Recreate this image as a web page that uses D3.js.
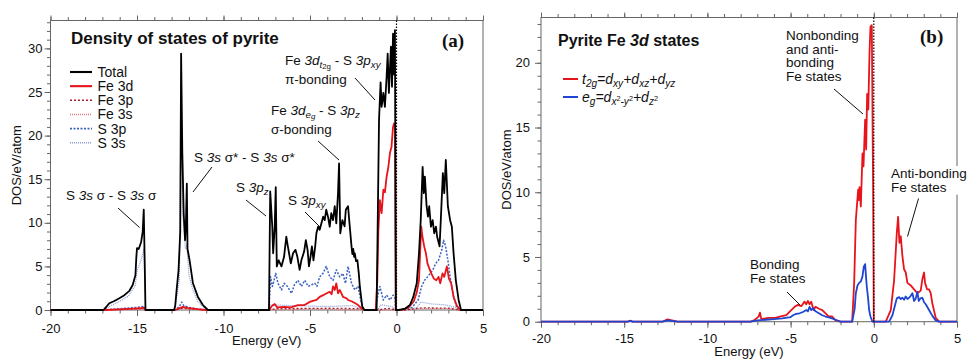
<!DOCTYPE html>
<html>
<head>
<meta charset="utf-8">
<script src="https://cdn.jsdelivr.net/npm/d3@7"></script>
<style>
body { margin: 0; background: #fff; }
text { font-family: "Liberation Sans", Arial, Helvetica, sans-serif; fill: #111; }
.frame { fill: none; stroke: #666; stroke-width: 1; }
.axis path { display: none; }
.axis line { stroke: #666; }
.axis text { font-size: 13px; fill: #111; font-family: "Liberation Sans", Arial, sans-serif; }
</style>
</head>
<body>
<svg width="967" height="362"></svg>
<script>
// ---- data: [energy (eV), DOS] ----
var xTicks = [-20, -15, -10, -5, 0, 5];
var yTicksA = [0, 5, 10, 15, 20, 25, 30];
var yTicksB = [0, 5, 10, 15, 20];

var totalA = [[-20,0],[-16.95,0],[-16.89,0.1],[-16.6,0.77],[-16.31,1.03],[-16.02,1.34],[-15.73,1.7],[-15.44,2.2],[-15.25,2.87],[-15.09,4.0],[-15.04,6.0],[-15.0,7.1],[-14.9,7.0],[-14.76,7.8],[-14.67,9.0],[-14.61,11.5],[-14.55,5],[-14.51,0],
  [-12.85,0],[-12.79,0.5],[-12.7,2.5],[-12.6,4.5],[-12.5,9],[-12.45,29.4],[-12.38,18],[-12.3,11],[-12.22,8],[-12.17,10],[-12.12,14.5],[-12.08,7],[-11.96,5.7],[-11.77,3.1],[-11.48,1.5],[-11.19,0.57],[-10.9,0],
  [-7.37,0],[-7.3,13.6],[-7.18,9.55],[-7.13,6.5],[-7.04,9.55],[-6.98,14.1],[-6.92,5.0],[-6.81,5.7],[-6.65,5.0],[-6.5,6.1],[-6.37,8.4],[-6.28,7.3],[-6.11,5.35],[-5.98,6.5],[-5.84,6.9],[-5.73,6.1],[-5.6,4.6],[-5.5,5.7],[-5.34,6.7],[-5.24,8.0],[-5.14,6.9],[-5.06,5.0],[-4.97,6.1],[-4.89,7.3],[-4.8,5.7],[-4.7,7.3],[-4.63,8.8],[-4.53,9.55],[-4.44,9.2],[-4.34,9.94],[-4.24,10.7],[-4.15,10.3],[-4.06,11.5],[-3.96,10.7],[-3.86,9.55],[-3.77,11.1],[-3.67,10.3],[-3.57,11.9],[-3.48,9.94],[-3.38,13.4],[-3.32,16.8],[-3.25,8.8],[-3.13,10.3],[-3.0,9.6],[-2.93,11.5],[-2.8,11.9],[-2.7,9.55],[-2.6,7.3],[-2.55,6.4],[-2.5,7.0],[-2.45,6.1],[-2.41,6.5],[-2.34,5.6],[-2.26,5.7],[-2.18,4.2],[-2.12,2.7],[-1.98,0.4],[-1.85,0],
  [-1.15,0],[-1.01,21.8],[-0.92,26.1],[-0.86,23.3],[-0.76,24.9],[-0.67,23.3],[-0.57,26.8],[-0.51,29.4],[-0.44,24.9],[-0.32,30.2],[-0.26,25.6],[-0.2,31.7],[-0.14,27],[-0.09,32.1],[-0.04,0],
  [0.15,0],[0.49,0.15],[0.78,0.57],[0.97,1.5],[1.17,3.06],[1.3,6.5],[1.4,10.3],[1.51,16.4],[1.58,13.4],[1.64,15.3],[1.74,11.9],[1.82,10.7],[1.89,11.9],[1.99,9.55],[2.09,10.3],[2.18,8.8],[2.28,9.55],[2.35,8.4],[2.49,7.3],[2.56,10.3],[2.68,15.7],[2.76,13.4],[2.85,17.2],[2.97,11.9],[3.1,10.3],[3.2,9.55],[3.3,6.5],[3.43,3.4],[3.59,1.15],[3.73,0],[5,0]];

var fe3dA = [[-20,0],[-16.9,0],[-16,0.08],[-15.2,0.15],[-14.8,0.2],[-14.6,0.25],[-14.5,0],[-12.8,0],[-12.5,0.25],[-12.35,0.35],[-12.1,0.25],[-11.5,0.1],[-11,0],
  [-7.37,0],[-7.3,0.2],[-7.2,0.46],[-7.04,0.69],[-6.9,0.3],[-6.5,0.35],[-6.1,0.3],[-5.7,0.57],[-5.35,0.55],[-4.98,0.96],[-4.63,1.15],[-4.44,1.5],[-4.24,1.7],[-4.06,1.9],[-3.86,2.1],[-3.75,1.8],[-3.67,2.7],[-3.57,2.3],[-3.48,3.06],[-3.38,1.9],[-3.28,2.3],[-3.09,1.5],[-2.9,1.35],[-2.8,1.15],[-2.6,1.0],[-2.41,0.8],[-2.22,0.57],[-2.03,0.2],[-1.85,0],
  [-1.2,0],[-1.11,3.4],[-1.05,9],[-0.96,12.6],[-0.86,11.1],[-0.76,13.8],[-0.67,13.5],[-0.57,15.3],[-0.47,16.4],[-0.38,18],[-0.29,18.7],[-0.2,21],[-0.14,21.4],[-0.08,21.2],[-0.04,0],
  [0.3,0],[0.7,0.3],[1.0,1.0],[1.17,2.0],[1.3,3.4],[1.43,9.55],[1.5,8.4],[1.6,7.3],[1.7,6.5],[1.79,5.35],[1.89,4.8],[2.01,4.2],[2.16,3.6],[2.3,3.4],[2.43,3.8],[2.53,3.06],[2.66,4.2],[2.76,3.8],[2.91,5.0],[3.03,3.6],[3.16,3.06],[3.3,1.5],[3.47,0.57],[3.66,0],[5,0]];

var fe3pA = [[-20,0],[-16.9,0],[-15,0.15],[-14.6,0.3],[-14.5,0],[-12.8,0],[-12.4,0.2],[-11,0],[-7.37,0],[-7,0.15],[-4,0.2],[-2,0.15],[-1.85,0],[-1.1,0],[-0.5,0.2],[-0.04,0],[0.5,0],[1.5,0.25],[3,0.2],[3.7,0],[5,0]];

var fe3sA = [[-20,0],[-16.9,0],[-15,0.1],[-14.5,0],[-12.8,0],[-12.4,0.15],[-11,0],[-7.37,0],[-5,0.1],[-1.85,0],[0.5,0],[1.5,0.15],[3,0.15],[3.7,0],[5,0]];

var s3pA = [[-20,0],[-16.9,0],[-16,0.15],[-15,0.3],[-14.6,0.4],[-14.5,0],[-12.8,0],[-12.55,0.4],[-12.42,0.9],[-12.3,0.5],[-12,0.3],[-11.5,0.1],[-11,0],
  [-7.37,0],[-7.28,3.8],[-7.18,2.7],[-7.1,3.2],[-6.98,4.2],[-6.85,3.06],[-6.65,2.3],[-6.5,3.06],[-6.3,2.7],[-6.07,1.9],[-5.9,2.9],[-5.7,3.4],[-5.5,2.7],[-5.3,3.4],[-5.1,2.7],[-4.9,2.9],[-4.72,3.06],[-4.6,2.7],[-4.44,3.8],[-4.25,4.2],[-4.06,5.0],[-3.86,3.8],[-3.67,3.4],[-3.48,4.6],[-3.28,3.8],[-3.1,4.2],[-2.95,3.06],[-2.8,5.0],[-2.6,3.06],[-2.41,2.3],[-2.22,2.7],[-2.07,1.15],[-1.93,0],
  [-1.2,0],[-1.1,1.5],[-0.96,2.7],[-0.76,1.15],[-0.57,1.7],[-0.38,1.15],[-0.2,1.7],[-0.08,1.3],[-0.04,0],
  [0.4,0],[0.9,0.3],[1.25,1.15],[1.45,2.7],[1.62,3.4],[1.79,3.8],[1.95,4.2],[2.1,4.6],[2.27,5.35],[2.43,5.7],[2.62,6.9],[2.72,8.0],[2.84,7.3],[2.97,5.7],[3.1,3.8],[3.3,1.5],[3.47,0.4],[3.6,0],[5,0]];

var s3sA = [[-20,0],[-16.9,0],[-16.6,0.4],[-16.0,1.0],[-15.5,1.6],[-15.1,2.8],[-15.0,4.5],[-14.8,5.5],[-14.65,6.5],[-14.6,7],[-14.55,3],[-14.5,0],
  [-12.85,0],[-12.7,1.5],[-12.55,3.5],[-12.45,24],[-12.35,11],[-12.2,7],[-12.12,7.5],[-12.0,4],[-11.8,2.5],[-11.5,1.0],[-11.2,0.4],[-10.9,0],
  [-7.37,0],[-7.3,0.6],[-6,0.5],[-4,0.4],[-2.5,0.5],[-1.9,0],[-1.1,0],[-0.9,0.6],[-0.3,0.4],[-0.04,0],[0.5,0],[1.2,0.3],[1.4,0.9],[2.0,0.7],[2.8,0.6],[3.4,0.3],[3.6,0],[5,0]];

var t2gB = [[-20,0],[-14.8,0],[-14.6,0.08],[-14.5,0],[-12.7,0],[-12.4,0.18],[-12.2,0.12],[-11.8,0],
  [-7.4,0],[-7.2,0.1],[-6.92,0.39],[-6.84,0.7],[-6.76,0.2],[-6.32,0.3],[-5.9,0.3],[-5.66,0.39],[-5.26,0.5],[-4.96,0.9],[-4.76,1.15],[-4.56,1.3],[-4.36,1.2],[-4.16,1.55],[-4.06,1.35],[-3.96,1.6],[-3.86,1.35],[-3.76,1.55],[-3.62,0.9],[-3.5,1.15],[-3.3,1.0],[-3.1,0.9],[-2.9,0.65],[-2.7,0.4],[-2.5,0.4],[-2.3,0.1],[-2.0,0],
  [-1.3,0],[-1.18,3],[-1.08,7.86],[-0.94,10.2],[-0.9,9.4],[-0.86,10.4],[-0.78,8.9],[-0.68,13.0],[-0.62,12.0],[-0.52,15.6],[-0.46,13.3],[-0.4,17.6],[-0.33,16.4],[-0.26,20.7],[-0.2,22.8],[-0.12,22.9],[-0.04,10],[0,0],
  [0.72,0],[1.02,0.9],[1.22,3.2],[1.38,6.8],[1.46,8.1],[1.54,6.1],[1.62,6.6],[1.72,5.07],[1.82,4.05],[1.92,3.8],[2.02,3.0],[2.22,2.8],[2.42,2.5],[2.62,2.2],[2.82,2.4],[2.92,3.3],[3.02,3.8],[3.08,3.0],[3.2,2.5],[3.32,2.5],[3.42,2.2],[3.52,1.4],[3.72,0.3],[3.93,0],[5,0]];

var egB = [[-20,0],[-14.8,0],[-14.6,0.06],[-14.5,0],[-12.7,0],[-12.4,0.1],[-11.8,0],
  [-7.4,0],[-7.0,0.1],[-6.5,0.15],[-6,0.2],[-5.5,0.25],[-5,0.35],[-4.86,0.5],[-4.66,0.6],[-4.46,0.65],[-4.26,0.75],[-4.06,0.9],[-3.96,0.8],[-3.86,1.15],[-3.76,0.9],[-3.66,1.05],[-3.5,0.8],[-3.3,0.65],[-3.1,0.5],[-2.9,0.4],[-2.6,0.3],[-2.3,0.15],[-2.0,0],
  [-1.3,0],[-1.15,1.0],[-1.08,2.2],[-0.98,2.8],[-0.88,3.0],[-0.78,3.1],[-0.68,3.5],[-0.6,4.25],[-0.52,4.45],[-0.47,3.5],[-0.42,2.7],[-0.35,1.9],[-0.28,0.9],[-0.2,0.4],[-0.08,0],
  [0.92,0],[1.12,0.5],[1.26,1.2],[1.38,1.8],[1.52,1.9],[1.62,1.75],[1.72,1.85],[1.82,1.7],[1.92,1.95],[2.02,1.75],[2.12,1.85],[2.22,2.0],[2.32,2.2],[2.42,1.6],[2.52,1.8],[2.62,2.3],[2.7,1.6],[2.8,1.8],[2.92,1.85],[3.02,1.5],[3.12,1.35],[3.32,0.9],[3.52,0.45],[3.72,0.1],[3.9,0],[5,0]];

var legendNamesA = ["Total", "Fe 3d", "Fe 3p", "Fe 3s", "S 3p", "S 3s"];
var seriesA = [s3sA, s3pA, fe3sA, fe3pA, fe3dA, totalA];   // drawing order
var seriesNamesA = ["S 3s", "S 3p", "Fe 3s", "Fe 3p", "Fe 3d", "Total"];

var styleA = {
  "Total": {c: "#000", w: 1.8, d: null},
  "Fe 3d": {c: "#e8141b", w: 1.8, d: null},
  "Fe 3p": {c: "#a8202a", w: 1.3, d: "2,2"},
  "Fe 3s": {c: "#e07a80", w: 1.3, d: "1,1"},
  "S 3p":  {c: "#3a62c0", w: 1.5, d: "2,1.5"},
  "S 3s":  {c: "#8a9ad6", w: 1.2, d: "1,1"}
};

var svg = d3.select("svg");

// small helper for text with italic / sub / sup pieces
// piece: [string, style ("i","b","bi",""), level (0 base, 1 sub, 2 subsub, 3 sup inside sub)]
function rich(g, x, y, pieces, size, cls) {
  var t = g.append("text").attr("x", x).attr("y", y).style("font-size", size + "px");
  if (cls) t.attr("class", cls);
  var shift = [0, 0.22, 0.33, -0.04];
  var scale = [1, 0.72, 0.58, 0.52];
  var cur = 0;
  pieces.forEach(function (p) {
    var lvl = p[2] || 0;
    var off = shift[lvl] * size;
    t.append("tspan")
      .attr("dy", off - cur)
      .style("font-size", (size * scale[lvl]) + "px")
      .style("font-style", (p[1] || "").indexOf("i") >= 0 ? "italic" : "normal")
      .style("font-weight", (p[1] || "").indexOf("b") >= 0 ? "bold" : "normal")
      .text(p[0]);
    cur = off;
  });
  return t;
}

function panel(x, y) {
  var g = svg.append("g");
  var x0 = x.range()[0], x1 = x.range()[1], y0 = y.range()[0], y1 = y.range()[1];
  var ymax = y.domain()[1];

  g.append("rect").attr("class", "frame")
    .attr("x", x0).attr("y", y1).attr("width", x1 - x0).attr("height", y0 - y1);

  g.append("g").attr("class", "axis").attr("transform", "translate(0," + y0 + ")")
    .call(d3.axisBottom(x).tickValues(d3.range(-20, 6, 1)).tickSize(3.5).tickFormat(""));
  g.append("g").attr("class", "axis").attr("transform", "translate(0," + y1 + ")")
    .call(d3.axisTop(x).tickValues(d3.range(-20, 6, 1)).tickSize(3.5).tickFormat(""));
  g.append("g").attr("class", "axis").attr("transform", "translate(0," + y1 + ")")
    .call(d3.axisTop(x).tickValues(xTicks).tickSize(5).tickFormat(""));
  g.append("g").attr("class", "axis").attr("transform", "translate(" + x0 + ",0)")
    .call(d3.axisLeft(y).tickValues(d3.range(0, Math.floor(ymax) + 1, 1)).tickSize(3.5).tickFormat(""));

  return g;
}

function pointer(g, x1, y1, x2, y2) {
  g.append("line").attr("x1", x1).attr("y1", y1).attr("x2", x2).attr("y2", y2)
    .attr("stroke", "#111").attr("stroke-width", 1);
}

// ================= panel (a) =================
var xA = d3.scaleLinear().domain([-20, 5]).range([50.5, 483]);
var yA = d3.scaleLinear().domain([0, 33.2]).range([310, 20.5]);
var gA = panel(xA, yA);

gA.append("g").attr("class", "axis").attr("transform", "translate(0,310)")
  .call(d3.axisBottom(xA).tickValues(xTicks).tickSize(6).tickPadding(7.5).tickFormat(function (d) { return String(d); }));
gA.append("g").attr("class", "axis").attr("transform", "translate(50.5,0)")
  .call(d3.axisLeft(yA).tickValues(yTicksA).tickSize(6).tickPadding(2).tickFormat(function (d) { return String(d); }));

var lineA = d3.line().x(function (d) { return xA(d[0]); }).y(function (d) { return yA(d[1]); });

seriesA.forEach(function (s, i) {
  var st = styleA[seriesNamesA[i]];
  gA.append("path").datum(s)
    .attr("fill", "none").attr("stroke", st.c).attr("stroke-width", st.w)
    .attr("stroke-dasharray", st.d).attr("stroke-linejoin", "round")
    .attr("d", lineA);
});

gA.append("line").attr("x1", xA(0)).attr("x2", xA(0)).attr("y1", yA.range()[1]).attr("y2", yA(0))
  .attr("stroke", "#000").attr("stroke-width", 1.2).attr("stroke-dasharray", "1.5,1.5");

gA.append("text").attr("x", 71).attr("y", 44).style("font-size", "17px").style("font-weight", "bold")
  .text("Density of states of pyrite");
gA.append("text").attr("x", 442).attr("y", 46.5).style("font-size", "19px").style("font-weight", "bold")
  .style("font-family", "'Liberation Serif', 'Times New Roman', serif").text("(a)");

// legend
legendNamesA.forEach(function (n, i) {
  var st = styleA[n], yy = 72 + i * 14.15;
  gA.append("line").attr("x1", 70).attr("x2", 92).attr("y1", yy).attr("y2", yy)
    .attr("stroke", st.c).attr("stroke-width", st.w + 0.3).attr("stroke-dasharray", st.d);
  gA.append("text").attr("x", 97.5).attr("y", yy + 5).style("font-size", "14px").text(n);
});

// annotations
var fa = 13.5;
rich(gA, 66, 200, [["S ",""],["3s","i"],[" σ - S ",""],["3s","i"],[" σ",""]], fa);
pointer(gA, 118, 208, 139.5, 227.5);
rich(gA, 194, 162, [["S ",""],["3s","i"],[" σ* - S ",""],["3s","i"],[" σ*",""]], fa);
pointer(gA, 212, 167, 193, 192);
rich(gA, 236, 192, [["S ",""],["3p","i"],["z","i",1]], fa);
pointer(gA, 246, 200, 266, 216);
rich(gA, 288, 205, [["S ",""],["3p","i"],["xy","i",1]], fa);
pointer(gA, 305, 212, 320, 227);
rich(gA, 271, 115, [["Fe ",""],["3d","i"],["e","i",1],["g","i",2],[" - S ",""],["3p","i"],["z","i",1]], fa);
gA.append("text").attr("x", 271).attr("y", 133.5).style("font-size", fa + "px").text("σ-bonding");
pointer(gA, 318, 141, 339, 160);
rich(gA, 285, 65, [["Fe ",""],["3d","i"],["t","i",1],["2g","",2],[" - S ",""],["3p","i"],["xy","i",1]], fa);
gA.append("text").attr("x", 285).attr("y", 83.5).style("font-size", fa + "px").text("π-bonding");
pointer(gA, 355, 78, 375, 100);

gA.append("text").attr("x", xA(-7.5)).attr("y", 345).attr("text-anchor", "middle")
  .style("font-size", "13px").text("Energy (eV)");
gA.append("text").attr("transform", "translate(21," + yA(33.2 / 2) + ") rotate(-90)")
  .attr("text-anchor", "middle").style("font-size", "13px").text("DOS/eV/atom");

// ================= panel (b) =================
var xB = d3.scaleLinear().domain([-20, 5]).range([541, 957]);
var yB = d3.scaleLinear().domain([0, 23.5]).range([321.7, 17.5]);
var gB = panel(xB, yB);

gB.append("g").attr("class", "axis").attr("transform", "translate(0,321.7)")
  .call(d3.axisBottom(xB).tickValues(xTicks).tickSize(6).tickPadding(6).tickFormat(function (d) { return String(d); }));
gB.append("g").attr("class", "axis").attr("transform", "translate(541,0)")
  .call(d3.axisLeft(yB).tickValues(yTicksB).tickSize(6).tickPadding(5).tickFormat(function (d) { return String(d); }));

var lineB = d3.line().x(function (d) { return xB(d[0]); }).y(function (d) { return yB(d[1]); });
var redB = "#e8141b", blueB = "#1e46d2";

gB.append("path").datum(t2gB).attr("fill", "none").attr("stroke", redB).attr("stroke-width", 1.8)
  .attr("stroke-linejoin", "round").attr("d", lineB);
gB.append("path").datum(egB).attr("fill", "none").attr("stroke", blueB).attr("stroke-width", 1.8)
  .attr("stroke-linejoin", "round").attr("d", lineB);

gB.append("line").attr("x1", xB(0)).attr("x2", xB(0)).attr("y1", yB.range()[1]).attr("y2", yB(0))
  .attr("stroke", "#000").attr("stroke-width", 1.2).attr("stroke-dasharray", "1.5,1.5");

rich(gB, 558, 46, [["Pyrite Fe ","b"],["3d","bi"],[" states","b"]], 16);
gB.append("text").attr("x", 920).attr("y", 43).style("font-size", "19px").style("font-weight", "bold")
  .style("font-family", "'Liberation Serif', 'Times New Roman', serif").text("(b)");

// legend (b)
gB.append("line").attr("x1", 563).attr("x2", 578).attr("y1", 79).attr("y2", 79).attr("stroke", redB).attr("stroke-width", 2);
gB.append("line").attr("x1", 563).attr("x2", 578).attr("y1", 97).attr("y2", 97).attr("stroke", blueB).attr("stroke-width", 2);
rich(gB, 582, 84, [["t","i"],["2g","i",1],["=d","i"],["xy","i",1],["+d","i"],["xz","i",1],["+d","i"],["yz","i",1]], 14);
rich(gB, 582, 102, [["e","i"],["g","i",1],["=d","i"],["x","i",1],["2","",3],["-y","i",1],["2","",3],["+d","i"],["z","i",1],["2","",3]], 14);

function block(g, x, y, lines) {
  var b = g.append("g");
  lines.forEach(function (s, i) {
    b.append("text").attr("x", x).attr("y", y + i * 13.6).style("font-size", fa + "px").text(s);
  });
  return b;
}
block(gB, 786, 40, ["Nonbonding", "and anti-", "bonding", "Fe states"]);
pointer(gB, 834, 89, 863, 114);
var anti = block(gB, 891, 178, ["Anti-bonding", "Fe states"]);
var bb = anti.node().getBBox();
anti.insert("rect", "text").attr("x", bb.x - 1).attr("y", bb.y).attr("width", bb.width + 2).attr("height", bb.height).attr("fill", "#fff");
pointer(gB, 918.5, 198.5, 907.5, 236.5);
block(gB, 750, 269, ["Bonding", "Fe states"]);
pointer(gB, 787, 292, 800, 305);

gB.append("text").attr("x", xB(-7.5)).attr("y", 356).attr("text-anchor", "middle")
  .style("font-size", "13px").text("Energy (eV)");
gB.append("text").attr("transform", "translate(511," + yB(23.5 / 2) + ") rotate(-90)")
  .attr("text-anchor", "middle").style("font-size", "13px").text("DOS/eV/atom");
</script>
</body>
</html>
